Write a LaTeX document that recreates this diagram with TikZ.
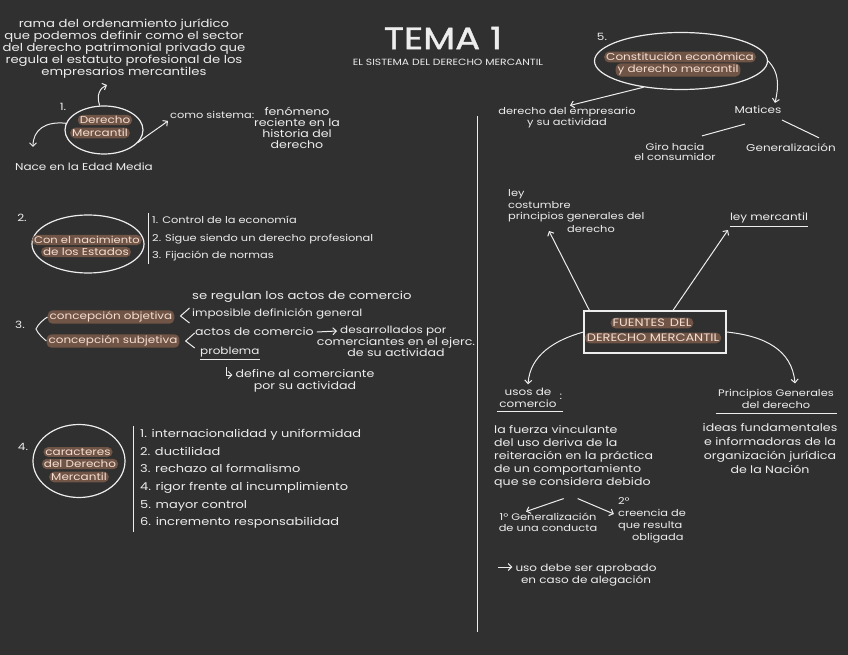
\documentclass[tikz,border=0pt]{standalone}
\usepackage{fontspec}
\setmainfont{Poppins}[FakeStretch=1.2]
\usetikzlibrary{arrows.meta,shapes.geometric}
\definecolor{bg}{HTML}{303030}
\definecolor{ink}{HTML}{EDEDED}
\definecolor{hlb}{HTML}{705446}
\definecolor{hlt}{HTML}{F4DED1}
\newcommand{\fsz}[2]{\fontsize{#1}{#2}\selectfont}
\begin{document}
\begin{tikzpicture}[x=1pt,y=-1pt,
  txt/.style={text=ink, font=\fsz{10}{11.5}, inner sep=0pt, align=center},
  hl/.style={fill=hlb, text=hlt, rounded corners=5pt, inner xsep=2pt, inner ysep=1.5pt, font=\fsz{10}{11.5}},
  ell/.style={draw=ink, ellipse, line width=1.2pt, inner sep=0pt},
  arr/.style={draw=ink, line width=1pt, -{Straight Barb[length=3.5pt,width=7pt]}},
  ln/.style={draw=ink, line width=1pt},
]
\fill[bg] (0,0) rectangle (848,655);
\useasboundingbox (0,0) rectangle (848,655);

% ---------- title
\node[txt, font=\fsz{31}{33}\addfontfeatures{FakeBold=1.2}] (title) at (443,38) {TEMA 1};
\node[txt, font=\fsz{9}{10}] (sub) at (448,62) {EL SISTEMA DEL DERECHO MERCANTIL};

% ---------- section 1
\node[txt, font=\fsz{11}{12}] (defin) at (124,49) {rama del ordenamiento jurídico\\que podemos definir como el sector\\del derecho patrimonial privado que\\regula el estatuto profesional de los\\empresarios mercantiles};
\node[txt] (n1) at (63,107) {1.};
\node[ell, minimum width=78pt, minimum height=48pt] (dm) at (104,130) {};
\node[hl] (dm1) at (105,120) {Derecho};
\node[hl] (dm2) at (100,133) {Mercantil};
\coordinate (dmtop) at (107,85);
\coordinate (dmleft) at (33,147);
\draw[arr] (dm.100) .. controls (96,95) and (100,88) .. (dmtop);
\draw[arr] (dm.170) .. controls (45,121) and (33,130) .. (dmleft);
\node[txt, anchor=west, font=\fsz{9.5}{11}] (cs) at (170,115) {como sistema:};
\draw[arr] (dm.-20) .. controls (152,132) and (160,127) .. ([xshift=-2pt,yshift=-2pt]cs.south west);
\node[txt, font=\fsz{10.5}{11}] (fen) at (297,128) {fenómeno\\reciente en la\\historia del\\derecho};
\node[txt] (nace) at (84,167) {Nace en la Edad Media};

% ---------- section 5
\node[txt] (n5) at (602,37) {5.};
\node[ell, minimum width=173pt, minimum height=57pt] (ce) at (681,61) {};
\node[hl] (ce1) at (680,57) {Constitución económica};
\node[hl] (ce2) at (678,70) {y derecho mercantil};
\node[txt, font=\fsz{9.5}{11}] (dea) at (567,118) {derecho del empresario\\y su actividad};
\node[txt] (mat) at (758,110) {Matices};
\draw[arr] (ce.215) -- ([xshift=3pt,yshift=2pt]dea.north);
\draw[arr] (ce.east) .. controls (779,72) and (779,85) .. ([xshift=17pt,yshift=3pt]mat.north);
\node[txt, font=\fsz{9.5}{10.5}] (giro) at (675,152) {Giro hacia\\el consumidor};
\node[txt] (gen) at (791,148) {Generalización};
\draw[ln] ([shift={(-13,10)}]mat.south) -- ([shift={(27,-7)}]giro.north);
\draw[ln] ([shift={(24,6)}]mat.south) -- ([shift={(28,-6)}]gen.north);

% ---------- section 2
\node[txt] (n2) at (22,218) {2.};
\node[ell, minimum width=112pt, minimum height=58pt] (cn) at (88,244) {};
\node[hl, font=\fsz{9.6}{11}] (cn1) at (87,240) {Con el nacimiento};
\node[hl] (cn2) at (86,252) {de los Estados};
\node[txt, align=left, anchor=west, font=\fsz{9.5}{17.5}] (l2) at (152,239) {1. Control de la economía\\2. Sigue siendo un derecho profesional\\3. Fijación de normas};
\draw[ln] ([xshift=-4pt,yshift=3pt]l2.north west) -- ([xshift=-4pt,yshift=-2pt]l2.south west);

% ---------- section 3
\node[txt] (n3) at (20,325) {3.};
\node[hl] (cob) at (111,317) {concepción objetiva};
\node[hl] (csu) at (113,341) {concepción subjetiva};
\coordinate (br3) at (36,329);
\draw[ln] (cob.west) .. controls (44,319) and (38,324) .. (br3) .. controls (38,334) and (44,339) .. (csu.west);
\draw[ln] ([shift={(15,-9)}]cob.east) -- ([shift={(6,-1)}]cob.east) -- ([shift={(15,6)}]cob.east);
\draw[ln] ([shift={(15,-8)}]csu.east) -- ([shift={(6,0)}]csu.east) -- ([shift={(15,7)}]csu.east);
\node[txt, anchor=west, font=\fsz{11}{12}] (sr) at (192,297) {se regulan los actos de comercio};
\node[txt, anchor=west] (imp) at (192,314) {imposible definición general};
\node[txt, anchor=west, font=\fsz{10.5}{12}] (ac) at (195,332) {actos de comercio};
\node[txt, anchor=west] (dp) at (340,331) {desarrollados por};
\draw[arr] ([xshift=3pt]ac.east) -- ([xshift=-3pt]dp.west);
\node[txt, font=\fsz{10.5}{11}] (cee) at (396,347) {comerciantes en el ejerc.\\de su actividad};
\node[txt, anchor=west] (prob) at (200,352) {problema};
\draw[ln] ([yshift=-2pt]prob.south west) -- ([yshift=-2pt]prob.south east);
\node[txt, font=\fsz{10.5}{12}] (dfc) at (305,381) {define al comerciante\\por su actividad};
\coordinate (hk) at (226,367);
\draw[arr] (hk) |- ([xshift=-3pt,yshift=6pt]dfc.west);

% ---------- section 4
\node[txt] (n4) at (23,447) {4.};
\node[ell, minimum width=92pt, minimum height=73pt] (car) at (79,461) {};
\node[hl] (car1) at (78,452) {caracteres};
\node[hl] (car2) at (80,464) {del Derecho};
\node[hl] (car3) at (79,477) {Mercantil};
\node[txt, align=left, anchor=west, font=\fsz{10.8}{17.6}] (l4) at (140,479) {1. internacionalidad y uniformidad\\2. ductilidad\\3. rechazo al formalismo\\4. rigor frente al incumplimiento\\5. mayor control\\6. incremento responsabilidad};
\draw[ln] ([xshift=-7pt,yshift=3pt]l4.north west) -- ([xshift=-7pt,yshift=-3pt]l4.south west);

% ---------- divider
\draw[ln] (477,116) -- (477,632);

% ---------- fuentes
\node[txt, align=left, anchor=west, font=\fsz{9.5}{11.5}] (lcp) at (508,206) {ley\\costumbre\\principios generales del};
\node[txt, anchor=west, font=\fsz{9.5}{11.5}] (der) at (567,229) {derecho};
\node[txt] (lm) at (769,218) {ley mercantil};
\draw[ln] ([yshift=-3pt]lm.south west) -- ([yshift=-3pt]lm.south east);
\node[draw=ink, line width=1.2pt, minimum width=142pt, minimum height=42pt] (fdm) at (655,332) {};
\node[hl, font=\fsz{10.8}{12}] (fd1) at (652,323) {FUENTES\hspace{5pt}DEL};
\node[hl, font=\fsz{10.8}{12}] (fd2) at (653,338) {DERECHO MERCANTIL};
\coordinate (tipl) at (549,231);
\coordinate (tipr) at (728,230);
\draw[arr] ([xshift=6pt]fdm.north west) -- (tipl);
\draw[arr] ([xshift=18pt]fdm.north) -- (tipr);
\node[txt] (uc) at (528,398) {usos de\\comercio};
\node[txt] (ucc) at (561,397) {:};
\draw[ln] ([shift={(-2,4)}]uc.south west) -- ([shift={(6,4)}]uc.south east);
\node[txt, font=\fsz{9.5}{11.5}] (pgd) at (776,399) {Principios Generales\\del derecho};
\draw[ln] ([shift={(-2,5)}]pgd.south west) -- ([shift={(3,5)}]pgd.south east);
\draw[arr] (fdm.west) .. controls (555,340) and (530,355) .. ([yshift=4pt]uc.north);
\draw[arr] (fdm.east) .. controls (765,336) and (792,350) .. ([shift={(19,-6)}]pgd.north);
\node[txt, align=left, anchor=west, font=\fsz{10.5}{13}] (fv) at (494,457) {la fuerza vinculante\\del uso deriva de la\\reiteración en la práctica\\de un comportamiento\\que se considera debido};
\node[txt, font=\fsz{10.5}{14}] (ideas) at (770,449) {ideas fundamentales\\e informadoras de la\\organización jurídica\\de la Nación};
\node[txt, font=\fsz{9.5}{11}] (g1) at (548,522) {1º Generalización\\de una conducta};
\node[txt, align=left, font=\fsz{9.5}{12}] (g2) at (652,520) {2º\\creencia de\\que resulta\\\hspace{14pt}obligada};
\draw[arr] ([shift={(-10,10)}]fv.south) -- ([shift={(-22,-1)}]g1.north);
\draw[arr] ([shift={(4,10)}]fv.south) -- ([shift={(-4,-6)}]g2.west);
\node[txt, font=\fsz{10}{12}] (ud) at (586,575) {uso debe ser aprobado\\en caso de alegación};
\coordinate (udarr) at (498,567);
\draw[arr] (udarr) -- ([xshift=-3pt]udarr -| ud.west);
\end{tikzpicture}
\end{document}
